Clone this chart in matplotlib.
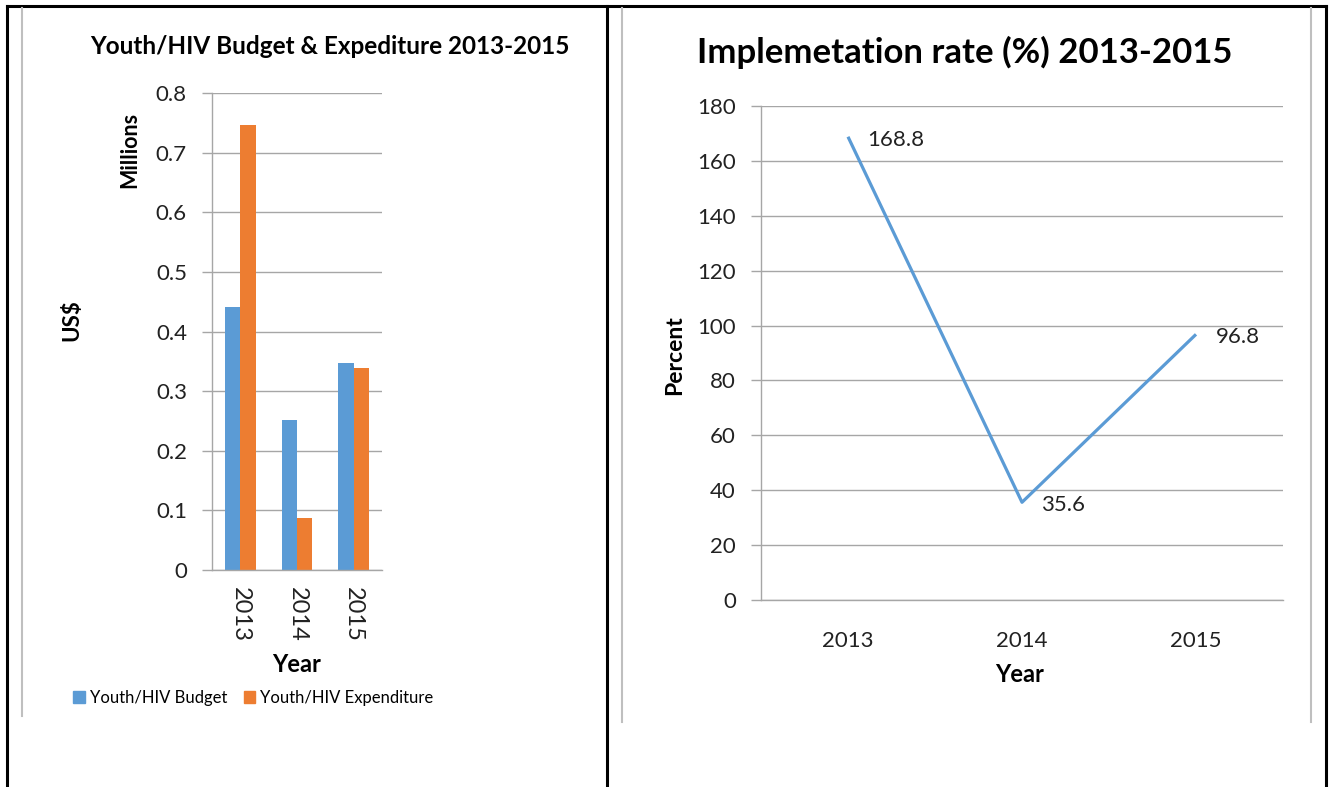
"""Youth/HIV budget, expenditure and implementation rate 2013-2015."""

import matplotlib.pyplot as plt
import numpy as np
from matplotlib.lines import Line2D
from matplotlib.patches import Patch

# Data
years = ["2013", "2014", "2015"]
budget = [0.441, 0.252, 0.348]  # millions US$
expenditure = [0.747, 0.088, 0.338]
impl_rate = [168.8, 35.6, 96.8]  # percent

W, H = 1330, 787
BLUE = "#5B9BD5"
ORANGE = "#ED7D31"
GRID = "#A6A6A6"
FONT = "Lato"

plt.rcParams["font.family"] = [FONT, "DejaVu Sans"]


def fx(px):
    return px / W


def fy(py):
    return 1 - py / H


def pline(x0, y0, x1, y1, **kw):
    fig.add_artist(Line2D([fx(x0), fx(x1)], [fy(y0), fy(y1)], **kw))


def style_axes(ax):
    for s in ["top", "right"]:
        ax.spines[s].set_visible(False)
    for s in ["left", "bottom"]:
        ax.spines[s].set_color(GRID)
        ax.spines[s].set_linewidth(1.0)
    ax.yaxis.grid(True, color=GRID, linewidth=1.0)
    ax.set_axisbelow(True)
    ax.tick_params(axis="y", length=7, color=GRID, width=1.0, labelsize=16,
                   labelcolor="#222222", pad=11)
    ax.tick_params(axis="x", length=0, labelsize=16, labelcolor="#222222")


fig = plt.figure(figsize=(W / 100, H / 100), dpi=100)

# table frame
pline(7, 6, 1326, 6, color="black", lw=2.2)
pline(7, 6, 7, 787, color="black", lw=2.2)
pline(607, 6, 607, 787, color="black", lw=2.2)
pline(1326, 6, 1326, 787, color="black", lw=2.2)
# chart frames (gray)
pline(22, 8, 22, 716, color="#BFBFBF", lw=1.5)
pline(622, 8, 622, 722, color="#BFBFBF", lw=1.5)
pline(1311, 8, 1311, 722, color="#BFBFBF", lw=1.5)

# ---- left: bar chart
ax1 = fig.add_axes([fx(212), fy(570), fx(382) - fx(212), fy(93) - fy(570)])
x = np.arange(len(years))
bw = 0.27
ax1.bar(x - bw / 2, budget, bw, color=BLUE, label="Youth/HIV Budget")
ax1.bar(x + bw / 2, expenditure, bw, color=ORANGE, label="Youth/HIV Expenditure")
ax1.set_xlim(-0.5, 2.5)
ax1.set_ylim(0, 0.8)
ax1.set_yticks(np.arange(0, 0.81, 0.1))
ax1.set_yticklabels(["0"] + [f"{v:.1f}" for v in np.arange(0.1, 0.81, 0.1)])
ax1.set_xticks(x)
ax1.set_xticklabels(years, rotation=270, va="top")
style_axes(ax1)
ax1.tick_params(axis="x", pad=12, labelsize=17)

fig.text(fx(330), fy(46), "Youth/HIV Budget & Expediture 2013-2015",
         ha="center", va="center", fontsize=17.5, fontweight="bold")
fig.text(fx(130), fy(150), "Millions", rotation=90, ha="center", va="center",
         fontsize=15.5, fontweight="bold")
fig.text(fx(72), fy(320), "US$", rotation=90, ha="center", va="center",
         fontsize=16, fontweight="bold")
fig.text(fx(297), fy(665), "Year", ha="center", va="center",
         fontsize=17, fontweight="bold")

handles = [Patch(color=BLUE, label="Youth/HIV Budget"),
           Patch(color=ORANGE, label="Youth/HIV Expenditure")]
fig.legend(handles=handles, loc="center left",
           bbox_to_anchor=(fx(58), fy(698)), ncol=2, frameon=False,
           fontsize=12, handlelength=0.7, handleheight=0.7,
           handletextpad=0.3, columnspacing=1.0)

# ---- right: line chart
ax2 = fig.add_axes([fx(761), fy(600), fx(1283) - fx(761), fy(106) - fy(600)])
ax2.plot(x, impl_rate, color=BLUE, lw=2.3, solid_capstyle="butt")
for xi, v in zip(x, impl_rate):
    ax2.annotate(f"{v}", (xi, v), xytext=(14, -2), textcoords="offset points",
                 ha="left", va="center", fontsize=16, color="#222222")
ax2.set_xlim(-0.5, 2.5)
ax2.set_ylim(0, 180)
ax2.set_yticks(np.arange(0, 181, 20))
ax2.set_xticks(x)
ax2.set_xticklabels(years)
style_axes(ax2)
ax2.tick_params(axis="x", pad=22)

fig.text(fx(965), fy(52), "Implemetation rate (%) 2013-2015",
         ha="center", va="center", fontsize=25, fontweight="bold")
fig.text(fx(675), fy(355), "Percent", rotation=90, ha="center", va="center",
         fontsize=16.5, fontweight="bold")
fig.text(fx(1020), fy(675), "Year", ha="center", va="center",
         fontsize=17, fontweight="bold")

fig.savefig("out.png", dpi=100)
